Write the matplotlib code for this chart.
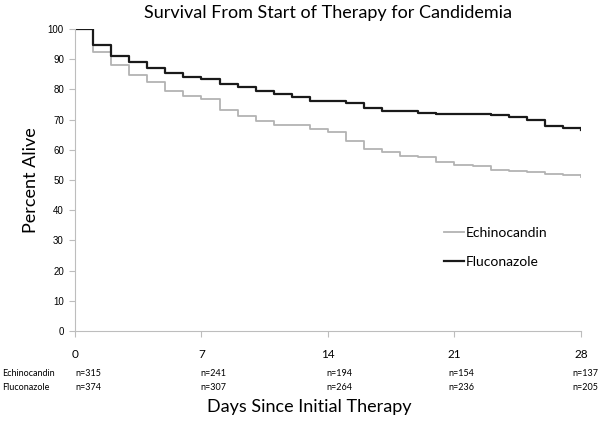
import matplotlib
matplotlib.use("Agg")
import matplotlib.pyplot as plt

# 数据：每天的存活百分比（阶梯图）
days = list(range(0, 29))
echinocandin = [100, 92.3, 88.1, 84.8, 82.3, 79.4, 77.8, 76.8, 73.3, 71.2,
                69.7, 68.3, 68.3, 66.8, 65.9, 63.0, 60.2, 59.4, 58.1, 57.5,
                56.0, 55.1, 54.8, 53.4, 53.0, 52.6, 52.1, 51.7, 51.0]
fluconazole = [100, 94.8, 91.0, 89.1, 87.2, 85.5, 84.2, 83.6, 81.8, 80.8,
               79.6, 78.4, 77.4, 76.3, 76.0, 75.5, 74.0, 72.9, 72.9, 72.3,
               71.9, 71.9, 71.8, 71.4, 71.0, 69.9, 67.9, 67.1, 66.6]

tick_days = [0, 7, 14, 21, 28]
n_echinocandin = [315, 241, 194, 154, 137]
n_fluconazole = [374, 307, 264, 236, 205]

label_font = ['Lato', 'DejaVu Sans']


def main():
    fig = plt.figure(figsize=(6, 4.21), dpi=100)
    ax = fig.add_axes([0.125, 0.2138, 0.8433, 0.7173])

    ax.step(days, echinocandin, where='post', color='#b3b3b3', linewidth=1.3,
            label='Echinocandin')
    ax.step(days, fluconazole, where='post', color='#1a1a1a', linewidth=1.6,
            label='Fluconazole')

    ax.set_xlim(0, 28)
    ax.set_ylim(0, 100)
    ax.set_xticks(tick_days)
    ax.set_yticks(range(0, 101, 10))

    for side in ['top', 'right']:
        ax.spines[side].set_visible(False)
    for side in ['left', 'bottom']:
        ax.spines[side].set_color('#bdbdbd')
        ax.spines[side].set_linewidth(0.8)
    ax.tick_params(axis='both', direction='out', length=4, width=0.8, color='#bdbdbd')
    ax.tick_params(axis='x', pad=9, labelsize=8.5)
    ax.tick_params(axis='y', pad=4, labelsize=7)
    for lab in ax.get_xticklabels():
        lab.set_family(label_font)
    for lab in ax.get_yticklabels():
        lab.set_family(['Liberation Sans', 'DejaVu Sans'])

    ax.set_title('Survival From Start of Therapy for Candidemia',
                 family=label_font, fontsize=13, pad=8)
    ax.set_ylabel('Percent Alive', family=label_font, fontsize=13, labelpad=6)
    fig.text(0.515, 0.033, 'Days Since Initial Therapy', family=label_font,
             fontsize=13, ha='center', va='center')

    # 各时间点的人数
    trans = ax.get_xaxis_transform()
    fig.text(0.003, 1 - 373 / 421, 'Echinocandin', family=label_font,
             fontsize=6.5, va='center')
    fig.text(0.003, 1 - 387 / 421, 'Fluconazole', family=label_font,
             fontsize=6.5, va='center')
    shifts = [0, -1, -2, -6, -9]
    for d, n1, n2, s in zip(tick_days, n_echinocandin, n_fluconazole, shifts):
        ax.annotate('n=%d' % n1, (d, -0.14), xycoords=trans,
                    xytext=(s * 0.72, 0), textcoords='offset points',
                    family=label_font, fontsize=6.5, ha='left', va='center',
                    annotation_clip=False)
        ax.annotate('n=%d' % n2, (d, -0.187), xycoords=trans,
                    xytext=(s * 0.72, 0), textcoords='offset points',
                    family=label_font, fontsize=6.5, ha='left', va='center',
                    annotation_clip=False)

    ax.legend(loc='center left', bbox_to_anchor=(0.705, 0.277), frameon=False,
              prop={'family': label_font, 'size': 10}, handlelength=1.4,
              handletextpad=0.15, labelspacing=1.2)

    fig.savefig('out.png', dpi=100)


if __name__ == "__main__":
    main()
